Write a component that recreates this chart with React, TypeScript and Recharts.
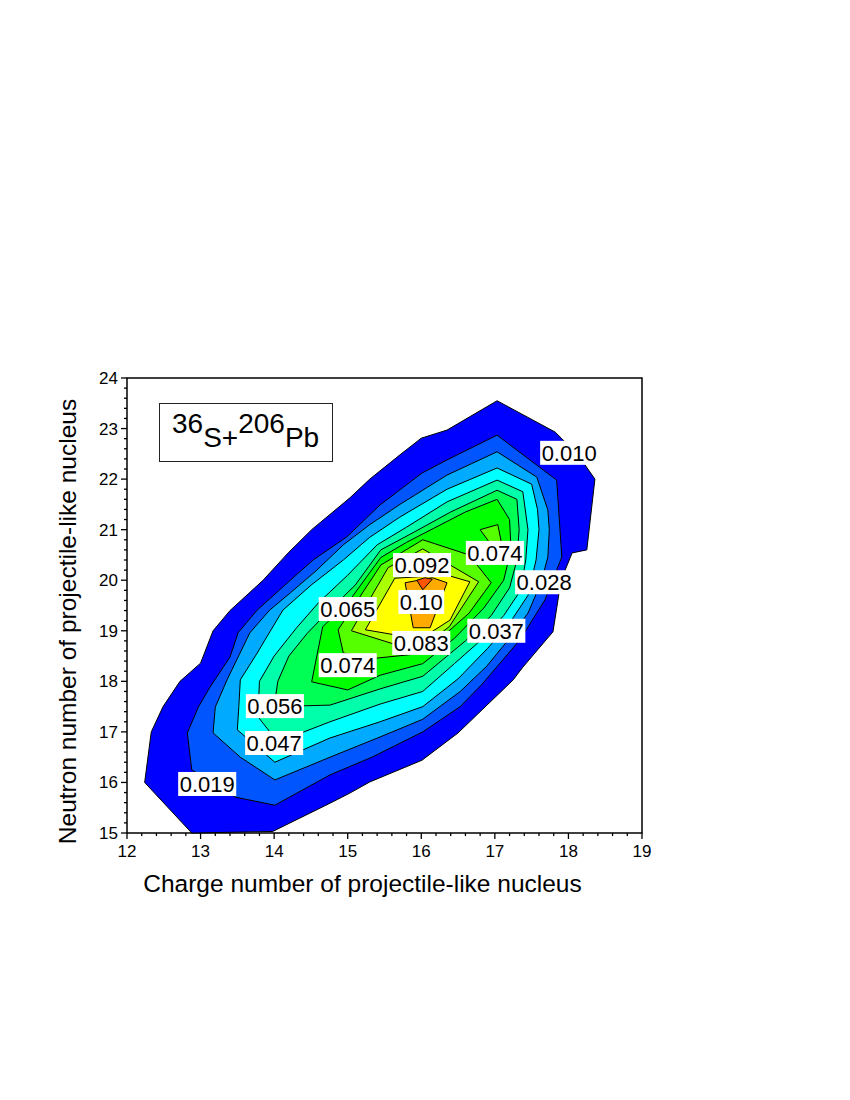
import { ReferenceArea, ReferenceDot, Scatter, ScatterChart, XAxis, YAxis } from "recharts";

type Pt = [number, number];

// contour boundaries as (Z, N) vertices
const LEVEL_010: Pt[] = [
  [12.24, 16.0], [12.33, 17.0], [12.49, 17.5], [12.72, 18.0], [13.0, 18.36], [13.17, 19.0],
  [13.4, 19.4], [13.85, 20.0], [14.19, 20.54], [14.51, 21.0], [15.03, 21.63], [15.3, 22.0],
  [15.71, 22.48], [16.0, 22.81], [16.35, 22.97], [17.03, 23.55], [17.82, 22.93], [18.13, 22.48],
  [18.36, 22.0], [18.25, 20.6], [18.05, 20.54], [17.9, 20.0], [17.79, 18.98], [17.38, 18.28],
  [17.25, 18.03], [16.5, 16.98], [16.01, 16.44], [15.3, 16.01], [15.03, 15.79], [14.76, 15.59],
  [13.98, 15.03], [12.88, 15.0],
];
const LEVEL_019: Pt[] = [
  [12.88, 16.25], [12.82, 16.98], [12.97, 17.49], [13.13, 17.89], [13.4, 18.48], [13.51, 18.96],
  [13.77, 19.41], [14.22, 20.0], [14.53, 20.4], [14.99, 20.86], [15.44, 21.49], [16.01, 22.12],
  [16.35, 22.38], [17.03, 22.87], [17.84, 21.98], [17.91, 20.46], [17.68, 19.61], [17.34, 18.82],
  [16.83, 17.95], [16.53, 17.5], [16.02, 17.0], [15.33, 16.5], [14.76, 16.15], [14.01, 15.55],
  [13.47, 15.71],
];
const LEVEL_028: Pt[] = [
  [13.17, 16.98], [13.2, 17.49], [13.36, 18.03], [13.51, 18.48], [13.67, 18.96], [13.94, 19.41],
  [14.22, 19.75], [14.58, 20.2], [14.94, 20.7], [15.3, 21.1], [15.71, 21.5], [16.35, 22.08],
  [17.03, 22.54], [17.57, 22.04], [17.72, 21.39], [17.74, 21.0], [17.72, 20.46], [17.63, 19.96],
  [17.45, 19.35], [17.2, 18.85], [16.89, 18.3], [16.53, 17.8], [16.02, 17.25], [15.44, 16.9],
  [14.76, 16.5], [14.01, 16.05], [13.54, 16.5],
];
const LEVEL_037: Pt[] = [
  [13.5, 17.04], [13.52, 17.5], [13.54, 18.03], [13.77, 18.56], [13.9, 18.88], [14.12, 19.41],
  [14.5, 19.9], [14.94, 20.4], [15.3, 20.85], [15.71, 21.25], [16.35, 21.8], [17.03, 22.22],
  [17.5, 21.9], [17.58, 21.4], [17.6, 21.0], [17.56, 20.4], [17.45, 19.7], [17.2, 19.15],
  [16.9, 18.65], [16.5, 18.05], [16.02, 17.5], [15.44, 17.2], [14.76, 16.88], [14.01, 16.4],
];
const LEVEL_047: Pt[] = [
  [13.78, 17.3], [13.8, 18.0], [14.0, 18.5], [14.3, 19.05], [14.6, 19.55], [15.0, 20.1],
  [15.4, 20.7], [15.8, 21.05], [16.35, 21.55], [17.03, 21.98], [17.38, 21.75], [17.45, 21.0],
  [17.42, 20.4], [17.35, 19.8], [17.12, 19.3], [16.8, 18.8], [16.45, 18.35], [16.02, 17.8],
  [15.44, 17.55], [14.76, 17.2], [14.05, 16.8],
];
const LEVEL_056: Pt[] = [
  [14.0, 17.5], [14.05, 18.0], [14.2, 18.5], [14.45, 18.95], [14.75, 19.4], [15.1, 19.9],
  [15.45, 20.6], [15.9, 20.95], [16.4, 21.35], [17.03, 21.78], [17.3, 21.6], [17.33, 21.0],
  [17.3, 20.4], [17.2, 19.85], [16.95, 19.3], [16.6, 18.8], [16.02, 18.1], [15.44, 17.85],
  [14.76, 17.53],
];
const LEVEL_065: Pt[] = [
  [14.51, 17.99], [14.66, 19.08], [15.0, 19.55], [15.45, 20.45], [15.8, 20.75], [16.2, 21.05],
  [16.6, 21.35], [17.03, 21.6], [17.2, 21.2], [17.22, 20.6], [17.12, 20.0], [16.85, 19.45],
  [16.45, 18.85], [16.02, 18.35], [15.44, 18.12], [15.0, 17.83],
];
const LEVEL_074: Pt[] = [
  [14.87, 19.02], [14.94, 18.56], [15.4, 18.46], [16.0, 18.55], [16.3, 18.9], [16.65, 19.35],
  [16.95, 19.95], [16.65, 20.5], [16.02, 20.8], [15.45, 20.3],
];
const LEVEL_074_PATCH: Pt[] = [[16.8, 21.0], [17.04, 21.1], [17.1, 20.66], [16.97, 20.66]];
const LEVEL_083: Pt[] = [
  [15.05, 19.0], [15.6, 18.75], [16.05, 18.72], [16.38, 19.08], [16.78, 19.97], [16.02, 20.62],
  [15.55, 20.25],
];
const LEVEL_092: Pt[] = [
  [15.24, 19.02], [15.64, 18.92], [16.12, 18.96], [16.39, 19.21], [16.66, 19.97], [16.35, 20.1],
  [15.64, 20.04],
];
const LEVEL_101: Pt[] = [[15.89, 19.06], [16.12, 19.06], [16.35, 19.95], [16.15, 20.05], [15.78, 19.95]];
const LEVEL_110: Pt[] = [[15.94, 20.0], [16.05, 20.05], [16.15, 20.02], [16.02, 19.81]];

const CONTOURS: { pts: Pt[]; fill: string }[] = [
  { pts: LEVEL_010, fill: "#0000ff" },
  { pts: LEVEL_019, fill: "#0055ff" },
  { pts: LEVEL_028, fill: "#00aaff" },
  { pts: LEVEL_037, fill: "#00ffff" },
  { pts: LEVEL_047, fill: "#00ffaa" },
  { pts: LEVEL_056, fill: "#00ff55" },
  { pts: LEVEL_065, fill: "#00ff00" },
  { pts: LEVEL_074, fill: "#55ff00" },
  { pts: LEVEL_074_PATCH, fill: "#55ff00" },
  { pts: LEVEL_083, fill: "#aaff00" },
  { pts: LEVEL_092, fill: "#ffff00" },
  { pts: LEVEL_101, fill: "#ffaa00" },
  { pts: LEVEL_110, fill: "#ff5500" },
];

// contour labels
const LABEL_TEXT = ["0.010", "0.019", "0.028", "0.037", "0.047", "0.056", "0.065", "0.074", "0.074", "0.083", "0.092", "0.10"];
const LABEL_X = [18.01, 13.09, 17.67, 17.02, 14.0, 14.01, 15.0, 15.0, 17.0, 16.0, 16.01, 16.0];
const LABEL_Y = [22.52, 15.97, 19.96, 19.0, 16.78, 17.51, 19.43, 18.32, 20.54, 18.76, 20.3, 19.57];

const X_MAJOR = [12, 13, 14, 15, 16, 17, 18, 19];
const Y_MAJOR = [15, 16, 17, 18, 19, 20, 21, 22, 23, 24];

const FONT = "'Liberation Sans', Arial, Helvetica, sans-serif";

function withMinor(major: number[]) {
  const out: number[] = [];
  major.forEach((m, i) => {
    out.push(m);
    if (i < major.length - 1) {
      for (let k = 1; k < 5; k++) out.push(Math.round((m + k * 0.2) * 10) / 10);
    }
  });
  return out;
}

function XTick(props: any) {
  const { x, y, payload } = props;
  const major = X_MAJOR.includes(payload.value);
  return (
    <g>
      <line x1={x} y1={y} x2={x} y2={y + (major ? 6 : 3)} stroke="#000" strokeWidth={1.3} />
      {major && (
        <text x={x} y={y + 24} textAnchor="middle" fontSize={17} fontFamily={FONT} fill="#000">
          {payload.value}
        </text>
      )}
    </g>
  );
}

function YTick(props: any) {
  const { x, y, payload } = props;
  const major = Y_MAJOR.includes(payload.value);
  return (
    <g>
      <line x1={x} y1={y} x2={x - (major ? 6 : 3)} y2={y} stroke="#000" strokeWidth={1.3} />
      {major && (
        <text x={x - 9} y={y + 6} textAnchor="end" fontSize={17} fontFamily={FONT} fill="#000">
          {payload.value}
        </text>
      )}
    </g>
  );
}

function ContourLabel({ cx, cy, text }: { cx: number; cy: number; text: string }) {
  const dots = text.split(".").length - 1;
  const w = (text.length - dots) * 12.23 + dots * 6.12 + 3;
  return (
    <g>
      <rect x={cx - w / 2} y={cy - 12} width={w} height={24} fill="#fff" />
      <text x={cx} y={cy + 8} textAnchor="middle" fontSize={22} fontFamily={FONT} fill="#000">
        {text}
      </text>
    </g>
  );
}

export default function App() {
  return (
    <div style={{ position: "relative", width: 840, height: 1000, fontFamily: FONT }}>
      <ScatterChart width={840} height={1000} margin={{ top: 370, right: 206, bottom: 115, left: 59 }}>
        <XAxis
          type="number"
          dataKey="x"
          domain={[12, 19]}
          ticks={withMinor(X_MAJOR)}
          interval={0}
          height={60}
          axisLine={false}
          tickLine={false}
          tickSize={0}
          tickMargin={0}
          tick={<XTick />}
          label={{
            content: (p: any) => {
              const vb = p.viewBox;
              return (
                <text x={vb.x + vb.width / 2 - 22} y={vb.y + 59} textAnchor="middle" fontSize={24.5} fontFamily={FONT} fill="#000">
                  Charge number of projectile-like nucleus
                </text>
              );
            },
          }}
        />
        <YAxis
          type="number"
          dataKey="y"
          domain={[15, 24]}
          ticks={withMinor(Y_MAJOR)}
          interval={0}
          width={60}
          axisLine={false}
          tickLine={false}
          tickSize={0}
          tickMargin={0}
          tick={<YTick />}
          label={{
            content: (p: any) => {
              const vb = p.viewBox;
              const tx = vb.x + 9;
              const ty = vb.y + vb.height / 2 + 16;
              return (
                <text x={tx} y={ty} transform={`rotate(-90, ${tx}, ${ty})`} textAnchor="middle" fontSize={24.5} fontFamily={FONT} fill="#000">
                  {"Neutron  number of projectile-like nucleus"}
                </text>
              );
            },
          }}
        />
        {CONTOURS.map((c, i) => (
          <Scatter
            key={i}
            data={[...c.pts, c.pts[0]].map(([x, y]) => ({ x, y }))}
            line={{ fill: c.fill, stroke: "#000", strokeWidth: 1 }}
            shape={() => <g />}
            isAnimationActive={false}
          />
        ))}
        {LABEL_TEXT.map((t, i) => (
          <ReferenceDot
            key={`lbl${i}`}
            x={LABEL_X[i]}
            y={LABEL_Y[i]}
            r={1}
            shape={(p: any) => <ContourLabel cx={p.cx} cy={p.cy} text={t} />}
          />
        ))}
        <ReferenceArea x1={12} x2={19} y1={15} y2={24} fill="none" fillOpacity={0} stroke="#000" strokeWidth={1.5} />
      </ScatterChart>
      <svg width={175} height={60} style={{ position: "absolute", left: 151, top: 395 }}>
        <rect x={0.5} y={0.5} width={173} height={58} fill="#fff" stroke="#222" strokeWidth={1} />
        <text x={13} y={30} fontSize={28} fontFamily={FONT} fill="#000">
          <tspan>36</tspan>
          <tspan dy={14}>S+</tspan>
          <tspan dy={-14}>206</tspan>
          <tspan dy={14}>Pb</tspan>
        </text>
      </svg>
    </div>
  );
}
